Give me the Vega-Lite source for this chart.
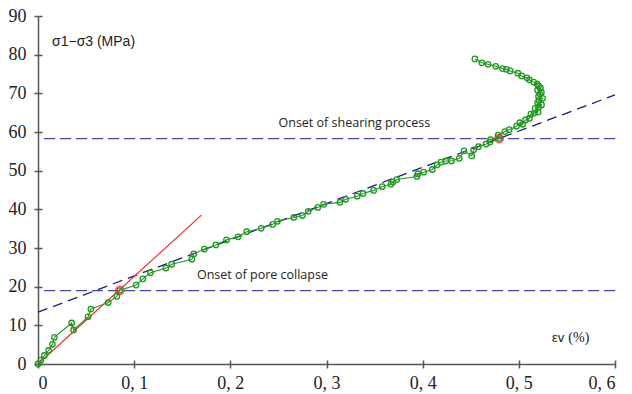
{
  "$schema": "https://vega.github.io/schema/vega-lite/v6.json",
  "width": 577,
  "height": 348,
  "autosize": {"type": "none"},
  "padding": {"left": 38, "top": 16, "right": 17, "bottom": 30},
  "background": "white",
  "config": {
    "view": {"stroke": null},
    "axis": {
      "grid": false,
      "domainColor": "#555555",
      "domainWidth": 1.5,
      "tickColor": "#555555",
      "tickWidth": 1.5,
      "labelFont": "Liberation Serif",
      "labelFontSize": 18,
      "labelColor": "#222222",
      "title": null
    }
  },
  "datasets": {
    "curve": [
      {"i": 0, "ev": 0.0, "q": 0.0},
      {"i": 1, "ev": 0.003, "q": 1.0},
      {"i": 2, "ev": 0.0066, "q": 2.2},
      {"i": 3, "ev": 0.011, "q": 3.5},
      {"i": 4, "ev": 0.015, "q": 5.1},
      {"i": 5, "ev": 0.017, "q": 6.9},
      {"i": 6, "ev": 0.035, "q": 10.6},
      {"i": 7, "ev": 0.037, "q": 8.8},
      {"i": 8, "ev": 0.052, "q": 12.2},
      {"i": 9, "ev": 0.055, "q": 14.2},
      {"i": 10, "ev": 0.073, "q": 15.9},
      {"i": 11, "ev": 0.082, "q": 17.5},
      {"i": 12, "ev": 0.085, "q": 19.0},
      {"i": 13, "ev": 0.102, "q": 20.4},
      {"i": 14, "ev": 0.109, "q": 22.0},
      {"i": 15, "ev": 0.117, "q": 23.6},
      {"i": 16, "ev": 0.133, "q": 24.8},
      {"i": 17, "ev": 0.139, "q": 25.8},
      {"i": 18, "ev": 0.16, "q": 27.1},
      {"i": 19, "ev": 0.162, "q": 28.5},
      {"i": 20, "ev": 0.173, "q": 29.7},
      {"i": 21, "ev": 0.185, "q": 30.8},
      {"i": 22, "ev": 0.196, "q": 32.1},
      {"i": 23, "ev": 0.208, "q": 32.9},
      {"i": 24, "ev": 0.217, "q": 34.2},
      {"i": 25, "ev": 0.232, "q": 35.1},
      {"i": 26, "ev": 0.244, "q": 36.1},
      {"i": 27, "ev": 0.249, "q": 36.9},
      {"i": 28, "ev": 0.266, "q": 37.9},
      {"i": 29, "ev": 0.275, "q": 38.4},
      {"i": 30, "ev": 0.281, "q": 39.5},
      {"i": 31, "ev": 0.291, "q": 40.5},
      {"i": 32, "ev": 0.297, "q": 41.3},
      {"i": 33, "ev": 0.314, "q": 41.8},
      {"i": 34, "ev": 0.32, "q": 42.6},
      {"i": 35, "ev": 0.332, "q": 43.4},
      {"i": 36, "ev": 0.338, "q": 44.1},
      {"i": 37, "ev": 0.349, "q": 44.9},
      {"i": 38, "ev": 0.358, "q": 45.9},
      {"i": 39, "ev": 0.367, "q": 46.5},
      {"i": 40, "ev": 0.369, "q": 47.1},
      {"i": 41, "ev": 0.373, "q": 47.7},
      {"i": 42, "ev": 0.394, "q": 48.5},
      {"i": 43, "ev": 0.395, "q": 49.2},
      {"i": 44, "ev": 0.401, "q": 49.6},
      {"i": 45, "ev": 0.41, "q": 50.3},
      {"i": 46, "ev": 0.415, "q": 51.5},
      {"i": 47, "ev": 0.419, "q": 52.2},
      {"i": 48, "ev": 0.424, "q": 52.5},
      {"i": 49, "ev": 0.43, "q": 52.5},
      {"i": 50, "ev": 0.438, "q": 53.2},
      {"i": 51, "ev": 0.443, "q": 55.1},
      {"i": 52, "ev": 0.451, "q": 53.8},
      {"i": 53, "ev": 0.453, "q": 55.4},
      {"i": 54, "ev": 0.458, "q": 56.2},
      {"i": 55, "ev": 0.466, "q": 56.9},
      {"i": 56, "ev": 0.47, "q": 57.4},
      {"i": 57, "ev": 0.4705, "q": 58.0},
      {"i": 58, "ev": 0.4795, "q": 58.3},
      {"i": 59, "ev": 0.4785, "q": 59.2},
      {"i": 60, "ev": 0.4855, "q": 60.1},
      {"i": 61, "ev": 0.49, "q": 60.6},
      {"i": 62, "ev": 0.4976, "q": 61.5},
      {"i": 63, "ev": 0.501, "q": 62.4},
      {"i": 64, "ev": 0.504, "q": 62.0},
      {"i": 65, "ev": 0.507, "q": 63.1},
      {"i": 66, "ev": 0.511, "q": 63.5},
      {"i": 67, "ev": 0.5125, "q": 64.6},
      {"i": 68, "ev": 0.516, "q": 64.9},
      {"i": 69, "ev": 0.52, "q": 65.2},
      {"i": 70, "ev": 0.517, "q": 66.1},
      {"i": 71, "ev": 0.5205, "q": 66.4},
      {"i": 72, "ev": 0.5236, "q": 67.0},
      {"i": 73, "ev": 0.5195, "q": 67.6},
      {"i": 74, "ev": 0.521, "q": 68.1},
      {"i": 75, "ev": 0.5247, "q": 68.7},
      {"i": 76, "ev": 0.5205, "q": 69.2},
      {"i": 77, "ev": 0.522, "q": 69.8},
      {"i": 78, "ev": 0.5235, "q": 70.3},
      {"i": 79, "ev": 0.5195, "q": 70.8},
      {"i": 80, "ev": 0.5225, "q": 71.4},
      {"i": 81, "ev": 0.5205, "q": 71.9},
      {"i": 82, "ev": 0.519, "q": 72.4},
      {"i": 83, "ev": 0.5155, "q": 72.9},
      {"i": 84, "ev": 0.511, "q": 73.5},
      {"i": 85, "ev": 0.5085, "q": 74.0},
      {"i": 86, "ev": 0.503, "q": 74.5},
      {"i": 87, "ev": 0.499, "q": 75.2},
      {"i": 88, "ev": 0.491, "q": 75.8},
      {"i": 89, "ev": 0.487, "q": 76.2},
      {"i": 90, "ev": 0.483, "q": 76.4},
      {"i": 91, "ev": 0.476, "q": 77.0},
      {"i": 92, "ev": 0.468, "q": 77.5},
      {"i": 93, "ev": 0.4615, "q": 77.9},
      {"i": 94, "ev": 0.4543, "q": 78.9}
    ],
    "onsets": [{"q": 58.3}, {"q": 19.0}],
    "trend": [{"ev": 0.0, "q": 13.4}, {"ev": 0.6, "q": 69.6}],
    "elastic": [{"ev": 0.0, "q": 0.0}, {"ev": 0.17, "q": 38.5}],
    "marked": [{"ev": 0.085, "q": 19.0}, {"ev": 0.4795, "q": 58.3}],
    "notes": [
      {"ev": 0.329, "q": 62.3, "label": "Onset of shearing process"},
      {"ev": 0.2334, "q": 23.0, "label": "Onset of pore collapse"}
    ]
  },
  "resolve": {"axis": {"x": "independent", "y": "independent"}},
  "layer": [
    {
      "data": {"name": "onsets"},
      "mark": {"type": "rule", "color": "#4646b4", "strokeWidth": 1.3, "strokeDash": [11, 5]},
      "encoding": {
        "y": {"field": "q", "type": "quantitative", "scale": {"domain": [0, 90], "nice": false},
          "axis": {"orient": "left", "values": [0, 10, 20, 30, 40, 50, 60, 70, 80, 90], "labels": false, "domain": false, "tickSize": -4}}
      }
    },
    {
      "data": {"name": "trend"},
      "mark": {"type": "line", "color": "#1b1b7e", "strokeWidth": 1.3, "strokeDash": [10, 6]},
      "encoding": {
        "x": {"field": "ev", "type": "quantitative", "scale": {"domain": [0, 0.6], "nice": false},
          "axis": {"orient": "bottom", "values": [0, 0.1, 0.2, 0.3, 0.4, 0.5, 0.6], "labels": false, "domain": false, "tickSize": -4}},
        "y": {"field": "q", "type": "quantitative", "axis": null}
      }
    },
    {
      "data": {"name": "elastic"},
      "mark": {"type": "line", "color": "#ff2020", "strokeWidth": 1.1},
      "encoding": {
        "x": {"field": "ev", "type": "quantitative", "axis": null},
        "y": {"field": "q", "type": "quantitative", "axis": null}
      }
    },
    {
      "data": {"name": "curve"},
      "mark": {
        "type": "line",
        "color": "#1e9a1e",
        "strokeWidth": 1.1,
        "point": {"filled": false, "fill": "white", "fillOpacity": 0, "stroke": "#1e9a1e", "strokeWidth": 1.3, "size": 30}
      },
      "encoding": {
        "x": {"field": "ev", "type": "quantitative", "scale": {"domain": [0, 0.6], "nice": false},
          "axis": {"orient": "bottom", "values": [0, 0.1, 0.2, 0.3, 0.4, 0.5, 0.6], "tickSize": 4, "labelPadding": 6,
            "labelExpr": "datum.value == 0 ? '0' : replace(format(datum.value, '.1f'), '.', ', ')"}},
        "y": {"field": "q", "type": "quantitative", "scale": {"domain": [0, 90], "nice": false},
          "axis": {"orient": "left", "values": [0, 10, 20, 30, 40, 50, 60, 70, 80, 90], "tickSize": 4, "labelPadding": 8}},
        "order": {"field": "i", "type": "quantitative"}
      }
    },
    {
      "data": {"name": "marked"},
      "mark": {"type": "point", "filled": false, "stroke": "#ff2020", "strokeWidth": 1.6, "size": 70},
      "encoding": {
        "x": {"field": "ev", "type": "quantitative", "axis": null},
        "y": {"field": "q", "type": "quantitative", "axis": null}
      }
    },
    {
      "data": {"name": "notes"},
      "mark": {"type": "text", "font": "Open Sans", "fontSize": 12.5, "color": "#222222", "align": "center", "baseline": "middle"},
      "encoding": {
        "x": {"field": "ev", "type": "quantitative", "axis": null},
        "y": {"field": "q", "type": "quantitative", "axis": null},
        "text": {"field": "label"}
      }
    },
    {
      "data": {"values": [{"ev": 0.0146, "q": 83.3, "label": "σ1−σ3 (MPa)"}]},
      "mark": {"type": "text", "font": "Liberation Sans", "fontSize": 14, "color": "#222222", "align": "left", "baseline": "middle"},
      "encoding": {
        "x": {"field": "ev", "type": "quantitative", "axis": null},
        "y": {"field": "q", "type": "quantitative", "axis": null},
        "text": {"field": "label"}
      }
    },
    {
      "data": {"values": [{"ev": 0.5345, "q": 6.7, "label": "εv"}]},
      "mark": {"type": "text", "font": "Liberation Sans", "fontSize": 13, "color": "#222222", "align": "left", "baseline": "middle"},
      "encoding": {
        "x": {"field": "ev", "type": "quantitative", "axis": null},
        "y": {"field": "q", "type": "quantitative", "axis": null},
        "text": {"field": "label"}
      }
    },
    {
      "data": {"values": [{"ev": 0.5515, "q": 6.7, "label": "(%)"}]},
      "mark": {"type": "text", "font": "Liberation Serif", "fontSize": 14, "color": "#222222", "align": "left", "baseline": "middle"},
      "encoding": {
        "x": {"field": "ev", "type": "quantitative", "axis": null},
        "y": {"field": "q", "type": "quantitative", "axis": null},
        "text": {"field": "label"}
      }
    }
  ]
}
